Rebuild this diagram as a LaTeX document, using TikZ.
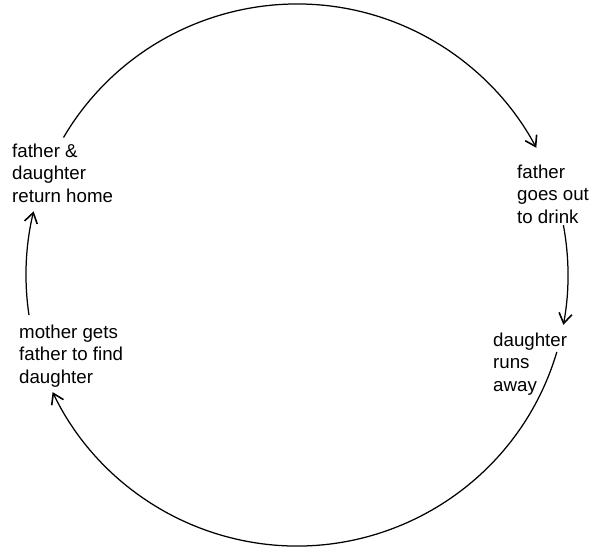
\documentclass[tikz,border=0pt]{standalone}
\usepackage{fontspec}
\setmainfont{Liberation Sans}
\usetikzlibrary{arrows.meta}
\begin{document}
\begin{tikzpicture}[x=1pt,y=-1pt,
  cyc/.style={line width=1.25pt, -{Straight Barb[length=10pt,width=13pt,line width=1.6pt]}},
  lbl/.style={anchor=base west, align=left, inner sep=0pt, font=\fontsize{18.7}{22.5}\selectfont}]
\useasboundingbox (0,0) rectangle (593,548);
\coordinate (c) at (297,275);
\node[lbl] (home) at (12,202) {father \&\\daughter\\return home};
\node[lbl] (drink) at (517,223) {father\\goes out\\to drink};
\node[lbl] (away) at (493,391) {daughter\\runs\\away};
\node[lbl] (mother) at (19,383) {mother gets\\father to find\\daughter};
\draw[cyc] ([shift={(-149.5:271)}]c) arc[start angle=-149.5, end angle=-28, radius=271];
\draw[cyc] ([shift={(-10.6:271)}]c) arc[start angle=-10.6, end angle=10.6, radius=271];
\draw[cyc] ([shift={(16.5:271)}]c) arc[start angle=16.5, end angle=154.4, radius=271];
\draw[cyc] ([shift={(171.5:271)}]c) arc[start angle=171.5, end angle=193.6, radius=271];
\end{tikzpicture}
\end{document}
